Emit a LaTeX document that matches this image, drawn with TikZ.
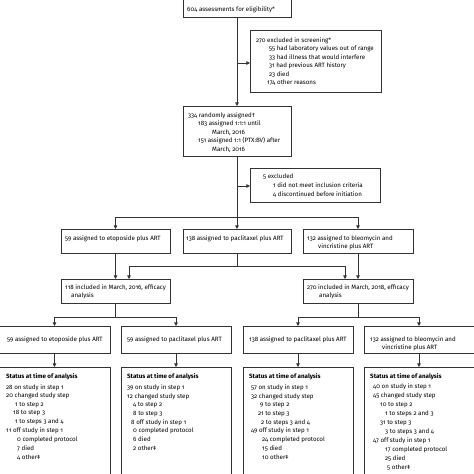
\documentclass[tikz,border=0pt]{standalone}
\usepackage{fontspec}
\setmainfont{Fira Sans}[Numbers=OldStyle]
\usetikzlibrary{arrows.meta}
\newcommand\boxlines[2]{%
  \foreach \xx/\yy/\ltext [count=\i] in {#2}
    \node[txt] (#1\i) at (\xx,\yy+2.4) {\ltext};}
\begin{document}
\begin{tikzpicture}[x=1pt,y=-1pt,
  box/.style={draw=black!80, line width=0.8pt, inner sep=0pt, outer sep=0pt, anchor=north west},
  txt/.style={anchor=base west, inner sep=0pt, font=\fontsize{6.2}{8}\selectfont, text=black},
  ln/.style={draw=black!80, line width=0.8pt},
  arr/.style={ln, -{Triangle[length=3.6pt,width=3.6pt]}}]
\useasboundingbox (0,0) rectangle (474,474);
\clip (0,0) rectangle (474,474);
% boxes
\node[box, minimum width=108pt, minimum height=27pt] (A) at (183,-10) {};
\node[box, minimum width=131pt, minimum height=62pt] (E1) at (250,30) {};
\node[box, minimum width=108pt, minimum height=50pt] (B) at (183,106) {};
\node[box, minimum width=130pt, minimum height=34pt] (E2) at (250,168) {};
\node[box, minimum width=109pt, minimum height=24pt] (C1) at (61,229) {};
\node[box, minimum width=108pt, minimum height=24pt] (C2) at (183,229) {};
\node[box, minimum width=110pt, minimum height=24pt] (C3) at (303,229) {};
\node[box, minimum width=109pt, minimum height=24pt] (D1) at (61,279) {};
\node[box, minimum width=110pt, minimum height=24pt] (D2) at (303,279) {};
\node[box, minimum width=111pt, minimum height=27pt] (F1) at (-1,326) {};
\node[box, minimum width=110pt, minimum height=27pt] (F2) at (121,326) {};
\node[box, minimum width=110pt, minimum height=27pt] (F3) at (243,326) {};
\node[box, minimum width=110pt, minimum height=27pt] (F4) at (364,326) {};
\node[box, minimum width=111pt, minimum height=130pt] (G1) at (-1,367) {};
\node[box, minimum width=110pt, minimum height=130pt] (G2) at (121,367) {};
\node[box, minimum width=110pt, minimum height=130pt] (G3) at (243,367) {};
\node[box, minimum width=110pt, minimum height=130pt] (G4) at (364,367) {};
% texts
\boxlines{tA}{187/9/{604 assessments for eligibility*}}
\boxlines{tE}{256/40/{270 excluded in screening*},
  269/48.5/{55 had laboratory values out of range},
  269/57/{33 had illness that would interfere},
  269/65.5/{31 had previous ART history},
  269/74/{23 died},
  267/82.5/{174 other reasons}}
\boxlines{tB}{188/115/{334 randomly assigned\textdagger},
  198/123.5/{183 assigned 1:1:1 until},
  212/132/{March, 2016},
  198/140.5/{151 assigned 1:1 (PTX:BV) after},
  212/149/{March, 2016}}
\boxlines{tX}{263/176/{5 excluded},
  273/185/{1 did not meet inclusion criteria},
  273/194/{4 discontinued before initiation}}
\boxlines{tCa}{65/238/{59 assigned to etoposide plus ART}}
\boxlines{tCb}{186/238/{138 assigned to paclitaxel plus ART}}
\boxlines{tCc}{307/238/{132 assigned to bleomycin and},
  318/246.5/{vincristine plus ART}}
\boxlines{tDa}{65/287/{118 included in March, 2016, efficacy},
  71/295.5/{analysis}}
\boxlines{tDb}{307/287/{270 included in March, 2018, efficacy},
  319/295.5/{analysis}}
\boxlines{tFa}{7/339/{59 assigned to etoposide plus ART}}
\boxlines{tFb}{127/339/{59 assigned to paclitaxel plus ART}}
\boxlines{tFc}{249/339/{138 assigned to paclitaxel plus ART}}
\boxlines{tFd}{370/339/{132 assigned to bleomycin and},
  382/347.5/{vincristine plus ART}}
\boxlines{tGa}{6/376/{\bfseries Status at time of analysis},
  6/387/{28 on study in step 1},
  6/395.5/{20 changed study step},
  15/404/{1 to step 2},
  13/412.5/{18 to step 3},
  15/421/{1 to steps 3 and 4},
  6/430/{11 off study in step 1},
  17/439/{0 completed protocol},
  17/448/{7 died},
  17/457/{4 other\textdaggerdbl}}
\boxlines{tGb}{127/376/{\bfseries Status at time of analysis},
  127/387/{39 on study in step 1},
  127/396/{12 changed study step},
  133/404.5/{4 to step 2},
  133/413/{8 to step 3},
  131/422/{8 off study in step 1},
  133/430.5/{0 completed protocol},
  133/439/{6 died},
  133/448/{2 other\textdaggerdbl}}
\boxlines{tGc}{249/376/{\bfseries Status at time of analysis},
  251/387/{57 on study in step 1},
  251/396/{32 changed study step},
  260/404.5/{9 to step 2},
  258/413/{21 to step 3},
  261/422/{2 to steps 3 and 4},
  251/430.5/{49 off study in step 1},
  262/439/{24 completed protocol},
  262/448/{15 died},
  262/457/{10 other\textdaggerdbl}}
\boxlines{tGd}{370/376/{\bfseries Status at time of analysis},
  373/386/{40 on study in step 1},
  373/395/{45 changed study step},
  380/404/{10 to step 2},
  385/413/{1 to steps 2 and 3},
  380/422/{31 to step 3},
  385/431/{3 to steps 3 and 4},
  373/440/{47 off study in step 1},
  385/449/{17 completed protocol},
  385/458/{25 died},
  387/467/{5 other\textdaggerdbl}}
% connectors
\coordinate (j1) at (237,63);
\coordinate (j2) at (237,186);
\coordinate (b1) at (237,217);
\coordinate (s2) at (237,266);
\coordinate (d1) at (115.5,317);
\coordinate (d2) at (358,317);
\draw[arr] (A.south) -- (B.north);
\draw[arr] (j1) -- (j1 -| E1.west);
\draw[ln] (B.south) -- (b1);
\draw[arr] (j2) -- (j2 -| E2.west);
\draw[arr] (b1) -- (C2.north);
\draw[arr] (b1) -| (C1.north);
\draw[arr] (b1) -| (C3.north);
\draw[arr] (C1.south) -- (D1.north);
\draw[arr] (C3.south) -- (D2.north);
\draw[ln] (C2.south) -- (s2);
\draw[arr] (s2) -| ([xshift=13.5pt]D1.north);
\draw[arr] (s2) -| ([xshift=-13pt]D2.north);
\draw[ln] (D1.south) -- (d1);
\draw[arr] (d1) -| (F1.north);
\draw[arr] (d1) -| (F2.north);
\draw[ln] (D2.south) -- (d2);
\draw[arr] (d2) -| (F3.north);
\draw[arr] (d2) -| (F4.north);
\draw[arr] (F1.south) -- (G1.north);
\draw[arr] (F2.south) -- (G2.north);
\draw[arr] (F3.south) -- (G3.north);
\draw[arr] (F4.south) -- (G4.north);
\end{tikzpicture}
\end{document}
